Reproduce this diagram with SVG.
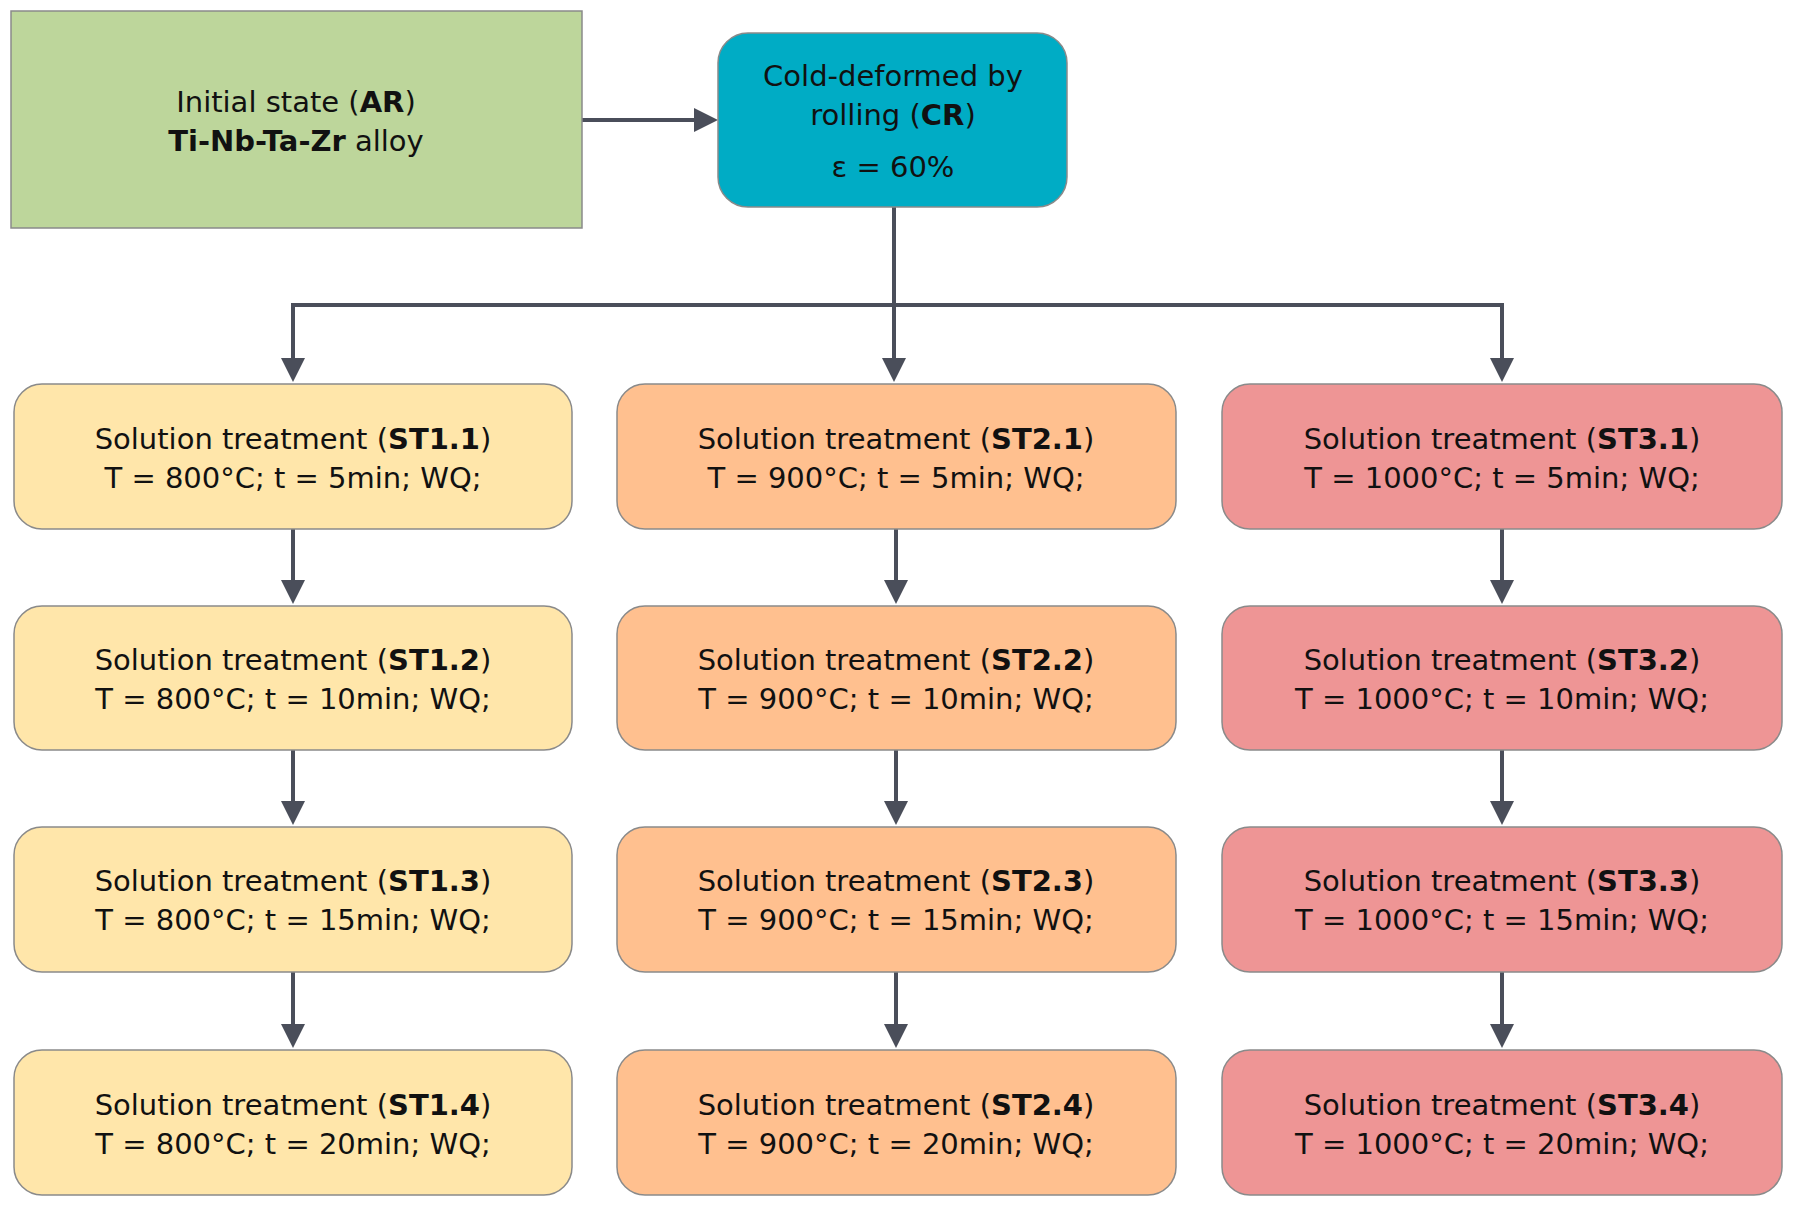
<svg xmlns="http://www.w3.org/2000/svg" width="1798" height="1208" viewBox="0 0 1798 1208">
<defs>
<marker id="ah" markerWidth="6" markerHeight="6" refX="5" refY="3" orient="auto" markerUnits="strokeWidth"><path d="M0,0 L6,3 L0,6 Z" fill="#4a4e5a"/></marker>
<style>
text{font-family:"DejaVu Sans","Verdana",sans-serif;font-size:29px;fill:#111;text-anchor:middle}
b,.b{font-weight:bold}
.st{stroke:#8a8a8a;stroke-width:1.5}
.y{fill:#FFE6AA}.o{fill:#FFC08F}.r{fill:#EE9595}
.c{stroke:#4a4e5a;stroke-width:4;fill:none}
</style>
</defs>
<rect width="1798" height="1208" fill="#fff"/>
<g id="connectors">
<path class="c" d="M582,120 H714" marker-end="url(#ah)"/>
<path class="c" d="M894,207 V378" marker-end="url(#ah)"/>
<path class="c" d="M293,378 V305 H1502 V378" marker-end="url(#ah)"/>
<path class="c" d="M293,305 V378" marker-end="url(#ah)"/>
<g>
<path class="c" d="M293,529 V600" marker-end="url(#ah)"/>
<path class="c" d="M293,750 V821" marker-end="url(#ah)"/>
<path class="c" d="M293,972 V1044" marker-end="url(#ah)"/>
<path class="c" d="M896,529 V600" marker-end="url(#ah)"/>
<path class="c" d="M896,750 V821" marker-end="url(#ah)"/>
<path class="c" d="M896,972 V1044" marker-end="url(#ah)"/>
<path class="c" d="M1502,529 V600" marker-end="url(#ah)"/>
<path class="c" d="M1502,750 V821" marker-end="url(#ah)"/>
<path class="c" d="M1502,972 V1044" marker-end="url(#ah)"/>
</g>
</g>
<g id="AR"><rect x="11" y="11" width="571" height="217" fill="#BDD69B" class="st"/>
<text x="296" y="112">Initial state (<tspan class="b">AR</tspan>)</text>
<text x="296" y="151"><tspan class="b">Ti-Nb-Ta-Zr</tspan> alloy</text></g>
<g id="CR"><rect x="718" y="33" width="349" height="174" rx="30" fill="#00ACC5" class="st"/>
<text x="893" y="86">Cold-deformed by</text>
<text x="893" y="125">rolling (<tspan class="b">CR</tspan>)</text>
<text x="893" y="177">ε = 60%</text></g>
<g id="ST1.1"><rect x="14" y="384" width="558" height="145" rx="28" class="y st"/><text x="293" y="449">Solution treatment (<tspan class="b">ST1.1</tspan>)</text><text x="293" y="488">T = 800°C; t = 5min; WQ;</text></g>
<g id="ST1.2"><rect x="14" y="606" width="558" height="144" rx="28" class="y st"/><text x="293" y="670">Solution treatment (<tspan class="b">ST1.2</tspan>)</text><text x="293" y="709">T = 800°C; t = 10min; WQ;</text></g>
<g id="ST1.3"><rect x="14" y="827" width="558" height="145" rx="28" class="y st"/><text x="293" y="891">Solution treatment (<tspan class="b">ST1.3</tspan>)</text><text x="293" y="930">T = 800°C; t = 15min; WQ;</text></g>
<g id="ST1.4"><rect x="14" y="1050" width="558" height="145" rx="28" class="y st"/><text x="293" y="1115">Solution treatment (<tspan class="b">ST1.4</tspan>)</text><text x="293" y="1154">T = 800°C; t = 20min; WQ;</text></g>
<g id="ST2.1"><rect x="617" y="384" width="559" height="145" rx="28" class="o st"/><text x="896" y="449">Solution treatment (<tspan class="b">ST2.1</tspan>)</text><text x="896" y="488">T = 900°C; t = 5min; WQ;</text></g>
<g id="ST2.2"><rect x="617" y="606" width="559" height="144" rx="28" class="o st"/><text x="896" y="670">Solution treatment (<tspan class="b">ST2.2</tspan>)</text><text x="896" y="709">T = 900°C; t = 10min; WQ;</text></g>
<g id="ST2.3"><rect x="617" y="827" width="559" height="145" rx="28" class="o st"/><text x="896" y="891">Solution treatment (<tspan class="b">ST2.3</tspan>)</text><text x="896" y="930">T = 900°C; t = 15min; WQ;</text></g>
<g id="ST2.4"><rect x="617" y="1050" width="559" height="145" rx="28" class="o st"/><text x="896" y="1115">Solution treatment (<tspan class="b">ST2.4</tspan>)</text><text x="896" y="1154">T = 900°C; t = 20min; WQ;</text></g>
<g id="ST3.1"><rect x="1222" y="384" width="560" height="145" rx="28" class="r st"/><text x="1502" y="449">Solution treatment (<tspan class="b">ST3.1</tspan>)</text><text x="1502" y="488">T = 1000°C; t = 5min; WQ;</text></g>
<g id="ST3.2"><rect x="1222" y="606" width="560" height="144" rx="28" class="r st"/><text x="1502" y="670">Solution treatment (<tspan class="b">ST3.2</tspan>)</text><text x="1502" y="709">T = 1000°C; t = 10min; WQ;</text></g>
<g id="ST3.3"><rect x="1222" y="827" width="560" height="145" rx="28" class="r st"/><text x="1502" y="891">Solution treatment (<tspan class="b">ST3.3</tspan>)</text><text x="1502" y="930">T = 1000°C; t = 15min; WQ;</text></g>
<g id="ST3.4"><rect x="1222" y="1050" width="560" height="145" rx="28" class="r st"/><text x="1502" y="1115">Solution treatment (<tspan class="b">ST3.4</tspan>)</text><text x="1502" y="1154">T = 1000°C; t = 20min; WQ;</text></g>
</svg>
